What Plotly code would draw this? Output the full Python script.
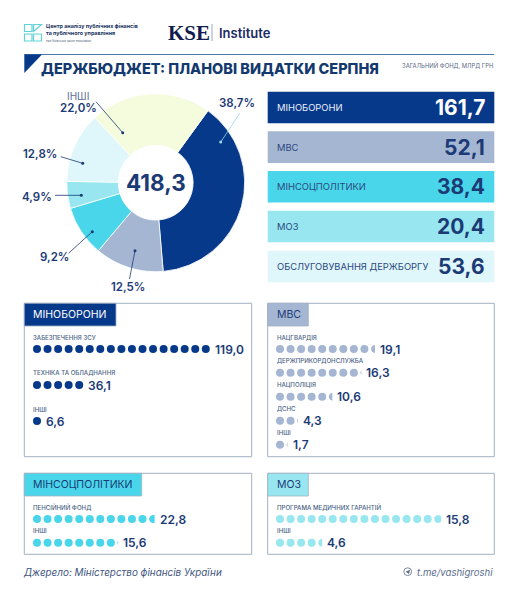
import numpy as np
import plotly.graph_objects as go

# ---------- data ----------
title = "ДЕРЖБЮДЖЕТ: ПЛАНОВІ ВИДАТКИ СЕРПНЯ"
subtitle = "ЗАГАЛЬНИЙ ФОНД, МЛРД ГРН"
source = "Джерело: Міністерство фінансів України"
channel = "t.me/vashigroshi"
total = 418.3

pie_shares = [38.7, 12.5, 9.2, 4.9, 12.8, 22.0]

kpi_names = ["МІНОБОРОНИ", "МВС", "МІНСОЦПОЛІТИКИ", "МОЗ", "ОБСЛУГОВУВАННЯ ДЕРЖБОРГУ"]
kpi_values = [161.7, 52.1, 38.4, 20.4, 53.6]

mod_items = ["ЗАБЕЗПЕЧЕННЯ ЗСУ", "ТЕХНІКА ТА ОБЛАДНАННЯ", "ІНШІ"]
mod_values = [119.0, 36.1, 6.6]
mod_dots = [17, 5, 1]

mvs_items = ["НАЦГВАРДІЯ", "ДЕРЖПРИКОРДОНСЛУЖБА", "НАЦПОЛІЦІЯ", "ДСНС", "ІНШІ"]
mvs_values = [19.1, 16.3, 10.6, 4.3, 1.7]
mvs_dots = [9.5, 8.12, 5.45, 2.12, 1.12]

soc_items = ["ПЕНСІЙНИЙ ФОНД", "ІНШІ"]
soc_values = [22.8, 15.6]
soc_dots = [11.7, 8.1]

moz_items = ["ПРОГРАМА МЕДИЧНИХ ГАРАНТІЙ", "ІНШІ"]
moz_values = [15.8, 4.6]
moz_dots = [15.85, 4.5]

# ---------- style ----------
NAVY = "#07398A"
GREY_BLUE = "#A5B6D3"
CYAN = "#49D6EA"
SKY = "#97E6F0"
ICE = "#DFF6FA"
LIME = "#F5FBDD"
INK = "#1C3B76"
MUTED = "#4A5F85"
BORDER = "#A3B1C2"
FONT = "Inter, Roboto, sans-serif"
pie_colors = [NAVY, GREY_BLUE, CYAN, SKY, ICE, LIME]

W, H = 519, 600


def fmt(v):
    return f"{v:.1f}".replace(".", ",")


shapes = []
annotations = []


def text(x, y, s, size, color=INK, weight=400, xanchor="left", yanchor="middle",
         family=FONT, italic=False):
    annotations.append(dict(
        x=x, y=y, xref="x", yref="y", text=s, showarrow=False, xanchor=xanchor, yanchor=yanchor,
        align="left", borderpad=0,
        font=dict(size=size, color=color, family=family, weight=weight,
                  style="italic" if italic else "normal")))


def rect(x0, y0, x1, y1, fill="rgba(0,0,0,0)", line=None, width=1):
    shapes.append(dict(type="rect", x0=x0, y0=y0, x1=x1, y1=y1, xref="x", yref="y",
                       fillcolor=fill, layer="below",
                       line=dict(color=line or "rgba(0,0,0,0)", width=width if line else 0)))


fig = go.Figure()

# ---------- header ----------
teal = "#5FD3D8"
for p in ["M24.5,24.5 L32,24.5 L32,31.5 L24.5,31.5 Z", "M33.5,24.5 L41.5,24.5 L33.5,31.5 Z",
          "M24.5,34 L32,34 L32,41 L24.5,41 Z", "M33.5,34 L41.5,34 L41.5,41 L33.5,41 Z"]:
    shapes.append(dict(type="path", path=p, xref="x", yref="y", line=dict(color=teal, width=1.2)))
text(44.5, 26, "Центр аналізу публічних фінансів", 5.4, "#22345f", 700)
text(44.5, 33, "та публічного управління", 5.4, "#22345f", 700)
text(44.5, 40, "при Київській школі економіки", 3, "#55607a", 400)
text(166.5, 33, "KSE", 21, "#101B4E", 700, family="Liberation Serif")
shapes.append(dict(type="line", x0=212, x1=212, y0=24, y1=41, xref="x", yref="y",
                   line=dict(color="#8d93a8", width=0.8)))
text(217.5, 32.5, "Institute", 13, "#1B2A63", 600)

shapes.append(dict(type="line", x0=24.3, x1=494, y0=54.5, y1=54.5, xref="x", yref="y",
                   line=dict(color="#3B6A9B", width=0.9)))
shapes.append(dict(type="path", path="M24.3,54.5 L42,54.5 L24.3,73 Z", xref="x", yref="y",
                   fillcolor=NAVY, line=dict(width=0)))
text(39.5, 68.5, title, 14.5, "#14396F", 800)
text(494, 65, subtitle, 5.9, "#5b6a85", 400, xanchor="right")

# ---------- doughnut ----------
cx, cy, R = 155.7, 182.7, 89.0
fig.add_trace(go.Pie(
    values=pie_shares, sort=False, direction="clockwise", rotation=36, hole=0.42,
    marker=dict(colors=pie_colors, line=dict(color="white", width=0.8)),
    textinfo="none", hoverinfo="skip", showlegend=False,
    domain=dict(x=[(cx - R) / W, (cx + R) / W], y=[1 - (cy + R) / H, 1 - (cy - R) / H])))
text(cx + 0.7, cy, fmt(total), 22.5, INK, 700, xanchor="center")

leaders = [
    ((220.7, 142), (240, 113), "#8FDCE8"),
    ((135, 250.7), (129.5, 279), INK),
    ((92.3, 231.7), (68.5, 253.3), INK),
    ((81.3, 195.3), (55, 195.3), INK),
    ((82.7, 163.3), (60.7, 156.7), INK),
    ((122.7, 132.7), (96, 101.7), INK),
]
for (dx, dy), (lx, ly), c in leaders:
    shapes.append(dict(type="line", x0=dx, y0=dy, x1=lx, y1=ly, xref="x", yref="y",
                       layer="above", line=dict(color=c, width=0.8)))
    shapes.append(dict(type="circle", x0=dx - 1.5, x1=dx + 1.5, y0=dy - 1.5, y1=dy + 1.5,
                       xref="x", yref="y", layer="above", fillcolor=c, line=dict(width=0)))

pie_label_pos = [(237.3, 103.3), (128, 286.5), (54, 256.7), (37.3, 196.7), (40, 154.3), (78.3, 108.3)]
for share, (lx, ly) in zip(pie_shares, pie_label_pos):
    text(lx, ly, fmt(share) + "%", 11.5, INK, 600, xanchor="center")
text(78.3, 95.5, "ІНШІ", 10, "#5f7196", 400, xanchor="center")

# ---------- KPI tiles ----------
tile_tops = [91.7, 131.3, 171, 210.7, 250.7]
tile_fill = [NAVY, GREY_BLUE, CYAN, SKY, ICE]
for name, val, top, fill, i in zip(kpi_names, kpi_values, tile_tops, tile_fill, range(5)):
    rect(267.7, top, 494.3, top + 31.6, fill=fill)
    c_label = "#E8EEF8" if i == 0 else "#2D4A80"
    c_val = "#FFFFFF" if i == 0 else INK
    text(275.7, top + 15.8, name, 9.4, c_label, 400)
    text(486, top + 15.8, fmt(val), 21, c_val, 700, xanchor="right")


# ---------- dot panels ----------
R_DOT, STEP = 4.0, 10.55


def panel(x0, y0, x1, y1, head_w, name, head_fill, head_color, items, values, dots, color,
          dot_x, label_ys, dot_ys):
    rect(x0, y0, x1, y1, fill="white", line=BORDER, width=1)
    rect(x0, y0, x0 + head_w, y0 + 22.7, fill=head_fill, line=BORDER, width=0.8)
    text(x0 + 8, y0 + 11.5, name, 10.5, head_color, 400)
    xs, ys = [], []
    for item, val, n, ly, dy in zip(items, values, dots, label_ys, dot_ys):
        text(x0 + 8, ly, item, 6.1, MUTED, 500)
        whole = int(n)
        frac = n - whole
        for i in range(whole):
            xs.append(dot_x + i * STEP)
            ys.append(dy)
        if frac > 0:
            # the last, partly filled dot is the left slice of a circle
            c = dot_x + whole * STEP
            edge = -R_DOT + 2 * R_DOT * frac
            a = np.arccos(np.clip(edge / R_DOT, -1, 1))
            th = np.linspace(a, 2 * np.pi - a, 40)
            fig.add_trace(go.Scatter(
                x=c + R_DOT * np.cos(th), y=dy + R_DOT * np.sin(th), mode="lines", fill="toself",
                fillcolor=color, line=dict(width=0), hoverinfo="skip", showlegend=False))
            end = c + edge
        else:
            end = dot_x + (whole - 1) * STEP + R_DOT
        text(end + 4, dy, fmt(val), 12, INK, 600)
    fig.add_trace(go.Scatter(x=xs, y=ys, mode="markers", hoverinfo="skip", showlegend=False,
                             marker=dict(size=2 * R_DOT, color=color, line=dict(width=0))))


panel(24.3, 303.3, 251.7, 456.7, 91.7, "МІНОБОРОНИ", NAVY, "#FFFFFF",
      mod_items, mod_values, mod_dots, NAVY, 37,
      [337, 372.7, 409], [349, 385, 421])
panel(267.7, 303.3, 494.3, 456.7, 40.6, "МВС", GREY_BLUE, INK,
      mvs_items, mvs_values, mvs_dots, GREY_BLUE, 280,
      [337, 360.7, 384.7, 408.7, 432.7], [349, 372.7, 396.7, 420.7, 444.7])
panel(24.3, 473.3, 251.7, 554.3, 117.4, "МІНСОЦПОЛІТИКИ", CYAN, INK,
      soc_items, soc_values, soc_dots, CYAN, 37,
      [506.5, 530.5], [519, 542.7])
panel(267.7, 473.3, 494.3, 554.3, 40.6, "МОЗ", SKY, INK,
      moz_items, moz_values, moz_dots, SKY, 280,
      [506.5, 530.5], [519, 542.7])

# ---------- footer ----------
text(22, 572.3, source, 9.9, "#40557D", 400, italic=True)
text(494, 572.3, channel, 9.6, "#5A6C8E", 400, xanchor="right", italic=True)
shapes.append(dict(type="circle", x0=403.8, x1=411.6, y0=567.8, y1=575.6, xref="x", yref="y",
                   line=dict(color="#5A6C8E", width=0.8)))
shapes.append(dict(type="path", path="M405.6,571.8 L410,569.8 L409,574 Z", xref="x", yref="y",
                   fillcolor="#5A6C8E", line=dict(width=0)))

fig.update_layout(
    width=W, height=H, autosize=False, margin=dict(l=0, r=0, t=0, b=0),
    paper_bgcolor="white", plot_bgcolor="white", showlegend=False,
    xaxis=dict(range=[0, W], visible=False, fixedrange=True),
    yaxis=dict(range=[H, 0], visible=False, fixedrange=True),
    shapes=shapes, annotations=annotations)

fig.write_html("out.html", config=dict(displayModeBar=False),
               post_script="document.body.style.margin='0';document.body.style.overflow='hidden';")
